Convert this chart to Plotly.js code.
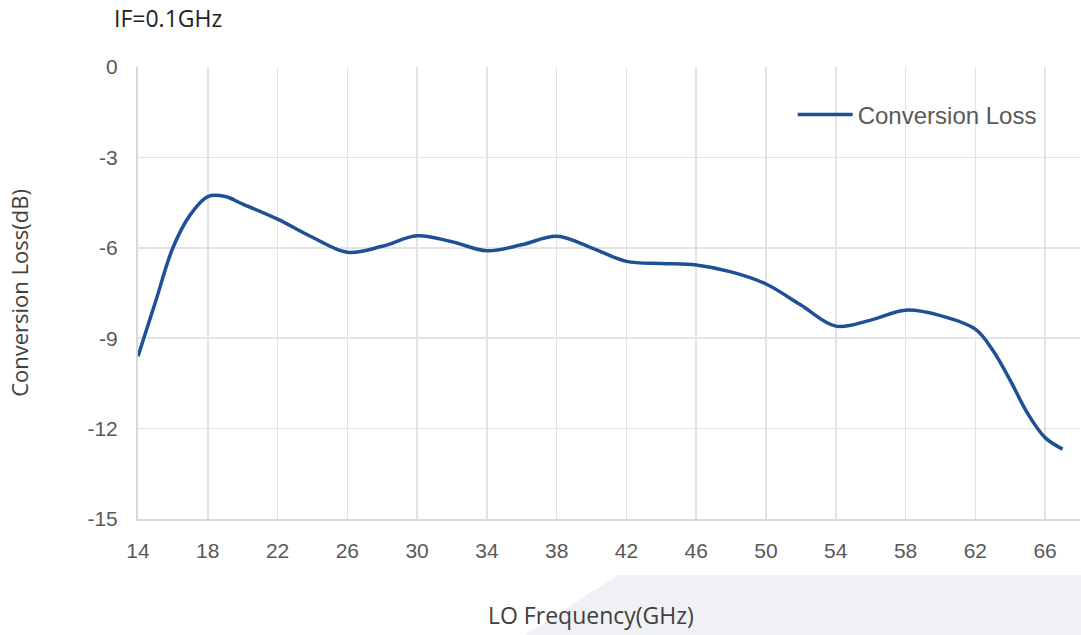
<!DOCTYPE html>
<html>
<head>
<meta charset="utf-8">
<script src="https://cdn.plot.ly/plotly-3.0.1.min.js"></script>
<style>html,body{margin:0;padding:0;background:#fff;}#chart{width:1081px;height:635px;}</style>
</head>
<body>
<div id="chart"></div>
<script>
const loFreq = [14, 15, 16, 17, 18, 19, 20, 22, 24, 26, 28, 30, 32, 34, 36, 38, 40, 42, 44, 46, 48, 50, 52, 54, 56, 58, 60, 62, 63, 64, 65, 66, 67];
const convLoss = [-9.6, -7.8, -6.0, -4.9, -4.3, -4.3, -4.55, -5.05, -5.65, -6.15, -5.95, -5.6, -5.8, -6.1, -5.9, -5.62, -6.0, -6.45, -6.52, -6.57, -6.8, -7.2, -7.9, -8.6, -8.4, -8.07, -8.25, -8.7, -9.4, -10.4, -11.5, -12.3, -12.68];
const xTicks = [14, 18, 22, 26, 30, 34, 38, 42, 46, 50, 54, 58, 62, 66];
const yTicks = [0, -3, -6, -9, -12, -15];
const seriesName = "Conversion Loss";
const xTitle = "LO Frequency(GHz)";
const yTitle = "Conversion Loss(dB)";
const chartNote = "IF=0.1GHz";

const trace = {
  x: loFreq, y: convLoss, type: "scatter", mode: "lines", name: seriesName,
  line: {color: "#1f5096", width: 3.5, shape: "spline", smoothing: 1.0}
};
const tickFont = {family: "Liberation Sans, Arial, sans-serif", size: 21, color: "#595959"};
const titleFont = {family: "Open Sans, sans-serif", size: 22, color: "#404040"};
const layout = {
  width: 1081, height: 635,
  margin: {l: 138, r: 1, t: 67, b: 116},
  paper_bgcolor: "#ffffff", plot_bgcolor: "#ffffff",
  showlegend: true,
  legend: {x: 0.695, y: 0.894, xanchor: "left", yanchor: "middle", bgcolor: "rgba(0,0,0,0)",
    font: {family: "Liberation Sans, Arial, sans-serif", size: 24, color: "#595959"}, itemwidth: 55},
  xaxis: {range: [14, 68], tickvals: xTicks, ticktext: xTicks.map(String),
    showgrid: true, gridcolor: "#e3e3e3", gridwidth: 1.5, zeroline: false,
    showline: true, linecolor: "#d9d9d9", linewidth: 2, ticks: "", ticklabelstandoff: 12,
    tickfont: tickFont},
  yaxis: {range: [-15, 0], tickvals: yTicks, ticktext: yTicks.map(String),
    showgrid: true, gridcolor: "#e3e3e3", gridwidth: 1.5, zeroline: false,
    showline: true, linecolor: "#d9d9d9", linewidth: 2, ticks: "", ticklabelstandoff: 14,
    tickfont: tickFont,
    title: {text: yTitle, font: titleFont, standoff: 53}},
  annotations: [
    {text: chartNote, xref: "paper", yref: "paper", x: (112-138)/942, y: (519-18)/452,
      xanchor: "left", yanchor: "middle", showarrow: false,
      font: {family: "Open Sans, sans-serif", size: 23, color: "#222222"}},
    {text: xTitle, xref: "paper", yref: "paper", x: (591-138)/942, y: (519-615)/452,
      xanchor: "center", yanchor: "middle", showarrow: false,
      font: {family: "Open Sans, sans-serif", size: 23, color: "#404040"}}
  ],
  shapes: [{type: "path", xref: "paper", yref: "paper", layer: "below",
    path: "M 0.51 -0.124 L 1.01 -0.124 L 1.01 -0.26 L 0.408 -0.26 Z",
    fillcolor: "#f0f1f5", line: {width: 0}}]
};
Plotly.newPlot("chart", [trace], layout, {displayModeBar: false, staticPlot: true});
</script>
</body>
</html>
